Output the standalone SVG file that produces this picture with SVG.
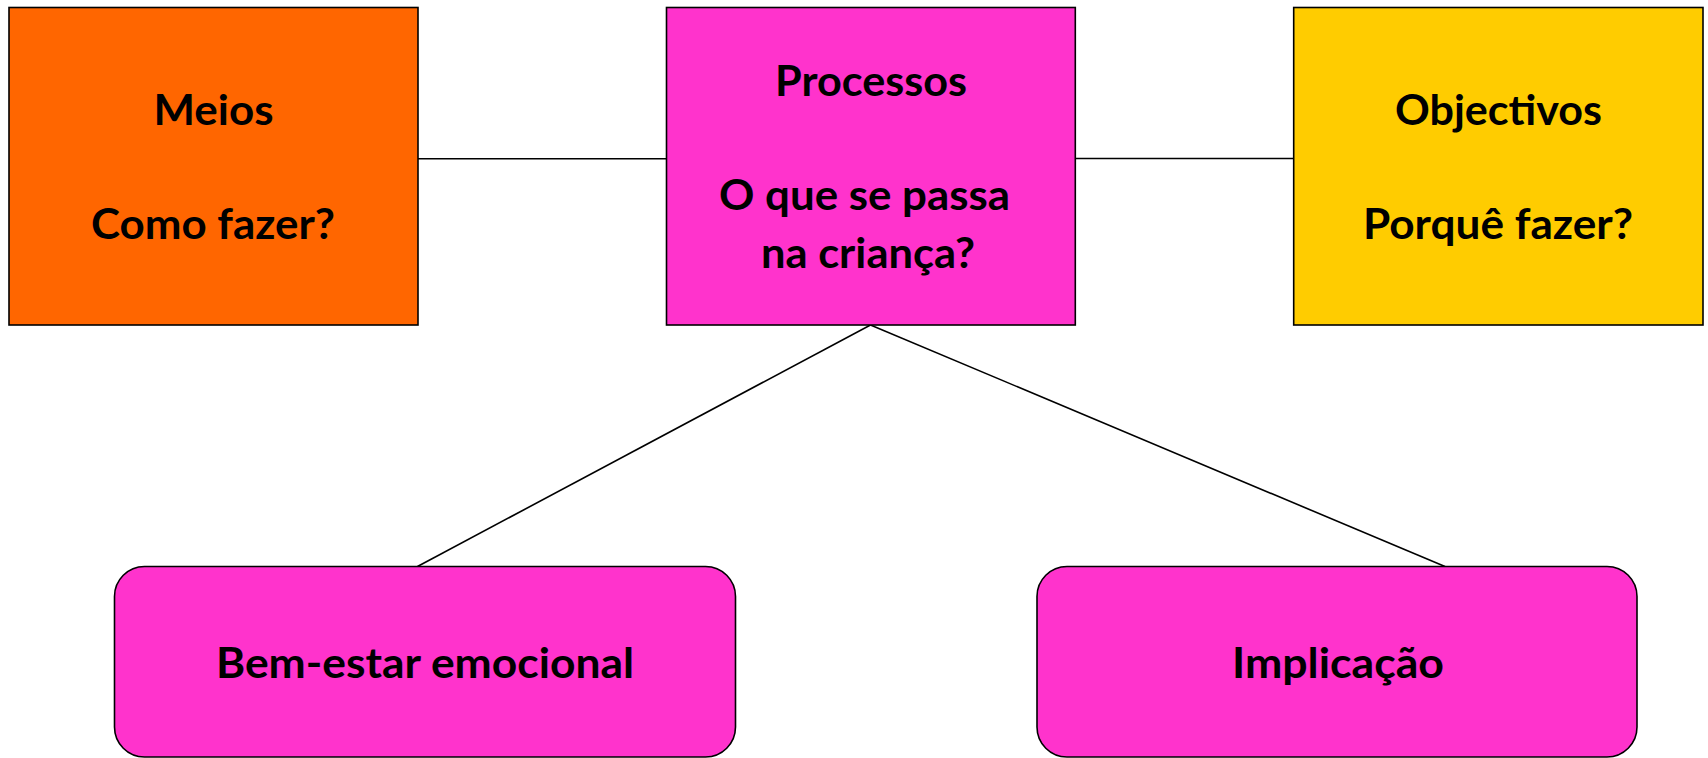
<svg xmlns="http://www.w3.org/2000/svg" width="1708" height="758" viewBox="0 0 1708 758">
<style>
.box{stroke:#000;stroke-width:1.6}
.lbl{font-family:Lato,"Liberation Sans",sans-serif;font-weight:bold;font-size:42px;fill:#000;text-anchor:middle}
.conn{stroke:#000;stroke-width:1.6;fill:none}
</style>
<rect width="1708" height="758" fill="#fff"/>
<g id="connectors">
<line class="conn" x1="418" y1="158.7" x2="666.5" y2="158.7"/>
<line class="conn" x1="1075.3" y1="158.5" x2="1293.7" y2="158.5"/>
<line class="conn" x1="870.5" y1="325" x2="417.5" y2="566.5"/>
<line class="conn" x1="870.5" y1="325" x2="1445" y2="566.5"/>
</g>
<g id="meios">
<rect class="box" x="9" y="7.5" width="409" height="317.5" fill="#FF6600"/>
<text class="lbl" x="213.5" y="125" textLength="120" lengthAdjust="spacingAndGlyphs">Meios</text>
<text class="lbl" x="213" y="239" textLength="244" lengthAdjust="spacingAndGlyphs">Como fazer?</text>
</g>
<g id="processos">
<rect class="box" x="666.5" y="7.5" width="408.8" height="317.5" fill="#FF33CC"/>
<text class="lbl" x="871" y="96" textLength="192" lengthAdjust="spacingAndGlyphs">Processos</text>
<text class="lbl" x="864.5" y="210" textLength="291" lengthAdjust="spacingAndGlyphs">O que se passa</text>
<text class="lbl" x="868" y="268" textLength="214" lengthAdjust="spacingAndGlyphs">na criança?</text>
</g>
<g id="objectivos">
<rect class="box" x="1293.7" y="7.5" width="409.3" height="317.5" fill="#FFCC00"/>
<text class="lbl" x="1498.5" y="125" textLength="207" lengthAdjust="spacingAndGlyphs">Objectivos</text>
<text class="lbl" x="1498" y="239" textLength="270" lengthAdjust="spacingAndGlyphs">Porquê fazer?</text>
</g>
<g id="bem-estar">
<rect class="box" x="114.5" y="566.5" width="621" height="190.5" rx="30" ry="30" fill="#FF33CC"/>
<text class="lbl" x="425" y="678" textLength="418" lengthAdjust="spacingAndGlyphs">Bem-estar emocional</text>
</g>
<g id="implicacao">
<rect class="box" x="1037" y="566.5" width="600" height="190.5" rx="30" ry="30" fill="#FF33CC"/>
<text class="lbl" x="1338" y="678" textLength="212" lengthAdjust="spacingAndGlyphs">Implicação</text>
</g>
</svg>
